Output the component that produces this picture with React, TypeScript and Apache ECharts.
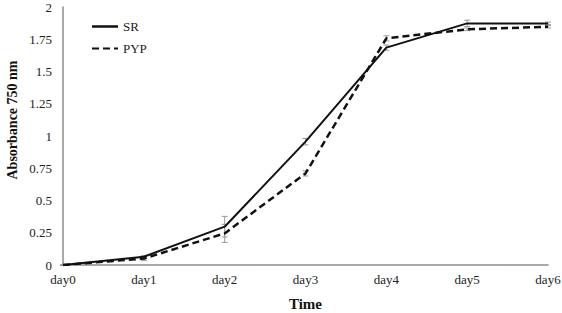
import React, { useEffect, useRef } from "react";
import * as echarts from "echarts";

const days = ["day0", "day1", "day2", "day3", "day4", "day5", "day6"];
const srValues = [0, 0.064, 0.297, 0.956, 1.685, 1.873, 1.873];
const pypValues = [0, 0.05, 0.245, 0.71, 1.757, 1.827, 1.847];
const srErrors = [0, 0.01, 0.08, 0.025, 0.02, 0.025, 0.01];
const pypErrors = [0, 0.015, 0.07, 0.02, 0.02, 0.01, 0.01];
const yTicks = ["0", "0.25", "0.5", "0.75", "1", "1.25", "1.5", "1.75", "2"];

const FONT = "'Liberation Serif', 'Times New Roman', serif";
const DASH_ICON = "path://M0,0h7v2h-7zM11,0h7v2h-7zM22,0h4v2h-4z";

function errorData(values: number[], errors: number[]) {
  return values.map((v, i) => [i, v - errors[i], v + errors[i]]);
}

function renderError(params: any, api: any) {
  const x = api.value(0);
  const lo = api.coord([x, api.value(1)]);
  const hi = api.coord([x, api.value(2)]);
  const cap = 3;
  const style = { stroke: "#9a9a9a", lineWidth: 1 };
  return {
    type: "group",
    children: [
      { type: "line", shape: { x1: lo[0], y1: lo[1], x2: hi[0], y2: hi[1] }, style },
      { type: "line", shape: { x1: hi[0] - cap, y1: hi[1], x2: hi[0] + cap, y2: hi[1] }, style },
      { type: "line", shape: { x1: lo[0] - cap, y1: lo[1], x2: lo[0] + cap, y2: lo[1] }, style },
    ],
  };
}

export default function App() {
  const ref = useRef<HTMLDivElement>(null);
  useEffect(() => {
    if (!ref.current) return;
    const chart = echarts.init(ref.current, undefined, { renderer: "svg" });
    chart.setOption({
      animation: false,
      backgroundColor: "#ffffff",
      textStyle: { fontFamily: FONT },
      grid: { left: 63, right: 14, top: 7, bottom: 48, containLabel: false, outerBoundsMode: "none" },
      legend: {
        data: [
          { name: "SR", icon: "rect" },
          { name: "PYP", icon: DASH_ICON },
        ],
        orient: "vertical",
        left: 92,
        top: 20,
        padding: 0,
        itemWidth: 26,
        itemHeight: 2.5,
        itemGap: 9,
        textStyle: { fontFamily: FONT, fontSize: 13, color: "#222" },
      },
      graphic: [
        {
          type: "text",
          x: 12,
          y: 120,
          rotation: Math.PI / 2,
          style: {
            text: "Absorbance 750 nm",
            fontFamily: FONT,
            fontSize: 14,
            fontWeight: "bold",
            fill: "#111",
            align: "center",
            verticalAlign: "middle",
          },
        },
      ],
      xAxis: {
        type: "category",
        data: days,
        boundaryGap: false,
        name: "Time",
        nameLocation: "middle",
        nameGap: 31,
        nameTextStyle: { fontFamily: FONT, fontSize: 15, fontWeight: "bold", color: "#111" },
        axisLine: { lineStyle: { color: "#8c8c8c", width: 1.5 } },
        axisTick: { show: false },
        axisLabel: { fontFamily: FONT, fontSize: 13, color: "#222", margin: 8 },
        splitLine: { show: false },
      },
      yAxis: {
        type: "value",
        min: 0,
        max: 2,
        interval: 0.25,
        axisLine: { show: true, lineStyle: { color: "#8c8c8c", width: 1.5 } },
        axisTick: { show: false },
        axisLabel: {
          fontFamily: FONT,
          fontSize: 13,
          color: "#222",
          margin: 11,
          formatter: (v: number) => {
            const idx = Math.round(v / 0.25);
            return yTicks[idx] ?? String(v);
          },
        },
        splitLine: { show: false },
      },
      series: [
        {
          type: "custom",
          name: "SR err",
          renderItem: renderError,
          data: errorData(srValues, srErrors),
          encode: { x: 0, y: [1, 2] },
          z: 1,
          silent: true,
        },
        {
          type: "custom",
          name: "PYP err",
          renderItem: renderError,
          data: errorData(pypValues, pypErrors),
          encode: { x: 0, y: [1, 2] },
          z: 1,
          silent: true,
        },
        {
          name: "SR",
          type: "line",
          data: srValues,
          symbol: "none",
          lineStyle: { color: "#111", width: 2 },
          itemStyle: { color: "#111" },
          z: 3,
        },
        {
          name: "PYP",
          type: "line",
          data: pypValues,
          symbol: "none",
          lineStyle: { color: "#111", width: 2.5, type: [7, 4] },
          itemStyle: { color: "#111" },
          z: 3,
        },
      ],
    });
    return () => chart.dispose();
  }, []);
  return <div ref={ref} style={{ width: 562, height: 313, position: "absolute", left: 0, top: 0 }} />;
}
